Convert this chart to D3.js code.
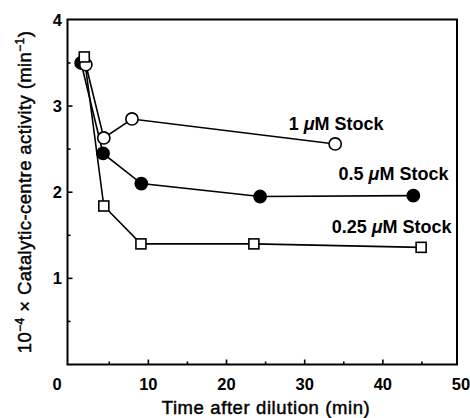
<!DOCTYPE html>
<html>
<head>
<meta charset="utf-8">
<script src="https://cdn.jsdelivr.net/npm/d3@7"></script>
<style>
  body { margin: 0; background: #fff; }
  svg { display: block; font-family: "Liberation Sans", Arial, sans-serif; }
</style>
</head>
<body>
<svg></svg>
<script>
// data
var oneX = [2.0, 4.3, 7.9, 33.9];
var oneY = [3.48, 2.63, 2.85, 2.56];
var halfX = [1.4, 4.2, 9.1, 24.3, 43.9];
var halfY = [3.5, 2.45, 2.1, 1.95, 1.96];
var quarterX = [1.8, 4.3, 9.05, 23.5, 44.9];
var quarterY = [3.57, 1.84, 1.4, 1.4, 1.36];
var xTicks = [0, 10, 20, 30, 40, 50];
var yTicks = [1, 2, 3, 4];

let w = 470;
let h = 418;

var svg = d3.select("svg").attr("width", w).attr("height", h);

var x = d3.scaleLinear().domain([0, 50]).range([70.2, 461]);
var y = d3.scaleLinear().domain([0, 4]).range([364.5, 19.9]);

// frame
svg.append("rect")
  .attr("x", 67.5).attr("y", 19.5)
  .attr("width", 457 - 67.5).attr("height", 364.5 - 19.5)
  .attr("fill", "none").attr("stroke", "#000").attr("stroke-width", 2);

// ticks (inward)
var g = svg.append("g").attr("stroke", "#000").attr("stroke-width", 1.6);
[5, 10, 15, 20, 25, 30, 35, 40, 45].forEach(function (v) {
  var len = v % 10 === 0 ? 5 : 3;
  g.append("line").attr("x1", x(v)).attr("x2", x(v))
    .attr("y1", 364.5).attr("y2", 364.5 - len);
});
[0.5, 1, 1.5, 2, 2.5, 3, 3.5].forEach(function (v) {
  var len = v % 1 === 0 ? 5 : 3;
  g.append("line").attr("x1", 67.5).attr("x2", 67.5 + len)
    .attr("y1", y(v)).attr("y2", y(v));
});

// tick labels
svg.append("g").selectAll("text").data(xTicks).enter().append("text")
  .attr("x", function (d) { return d === 0 ? 57 : x(d); })
  .attr("y", 389.5)
  .attr("text-anchor", "middle")
  .attr("font-size", 16.5).attr("font-weight", "bold")
  .text(function (d) { return d; });

svg.append("g").selectAll("text").data(yTicks).enter().append("text")
  .attr("x", 62)
  .attr("y", function (d) { return y(d) + 6; })
  .attr("text-anchor", "end")
  .attr("font-size", 16.5).attr("font-weight", "bold")
  .text(function (d) { return d; });

// axis titles (thin stroke to get the medium weight of the original)
svg.append("text")
  .attr("x", 266).attr("y", 414)
  .attr("text-anchor", "middle")
  .attr("font-size", 18.5).attr("letter-spacing", 0.6)
  .attr("stroke", "#000").attr("stroke-width", 0.45)
  .text("Time after dilution (min)");

var yt = svg.append("text")
  .attr("transform", "translate(31,192) rotate(-90)")
  .attr("text-anchor", "middle")
  .attr("font-size", 18.5).attr("letter-spacing", 0.4)
  .attr("stroke", "#000").attr("stroke-width", 0.45);
yt.append("tspan").text("10");
yt.append("tspan").attr("font-size", 12).attr("dy", -7).text("\u22124");
yt.append("tspan").attr("dy", 7).text(" \u00d7 Catalytic-centre activity (min");
yt.append("tspan").attr("font-size", 12).attr("dy", -7).text("\u22121");
yt.append("tspan").attr("dy", 7).text(")");

// lines
var line = d3.line().x(function (d) { return x(d[0]); }).y(function (d) { return y(d[1]); });
var series = [
  { xs: halfX, ys: halfY, shape: "filled" },
  { xs: oneX, ys: oneY, shape: "open" },
  { xs: quarterX, ys: quarterY, shape: "square" }
];
series.forEach(function (s) {
  var pts = d3.zip(s.xs, s.ys);
  svg.append("path").attr("d", line(pts))
    .attr("fill", "none").attr("stroke", "#000").attr("stroke-width", 1.6);
});

// markers
series.forEach(function (s) {
  var pts = d3.zip(s.xs, s.ys);
  var m = svg.append("g");
  if (s.shape === "square") {
    m.selectAll("rect").data(pts).enter().append("rect")
      .attr("x", function (d) { return x(d[0]) - 5; })
      .attr("y", function (d) { return y(d[1]) - 5; })
      .attr("width", 10).attr("height", 10)
      .attr("fill", "#fff").attr("stroke", "#000").attr("stroke-width", 1.6);
  } else {
    m.selectAll("circle").data(pts).enter().append("circle")
      .attr("cx", function (d) { return x(d[0]); })
      .attr("cy", function (d) { return y(d[1]); })
      .attr("r", 6.1)
      .attr("fill", s.shape === "filled" ? "#000" : "#fff")
      .attr("stroke", "#000").attr("stroke-width", 1.6);
  }
});

// series labels
var labels = [
  { pre: "1 ", lx: 40.1, ly: 2.72 },
  { pre: "0.5 ", lx: 48.4, ly: 2.14 },
  { pre: "0.25 ", lx: 48.8, ly: 1.525 }
];
labels.forEach(function (l) {
  var t = svg.append("text")
    .attr("x", x(l.lx)).attr("y", y(l.ly))
    .attr("text-anchor", "end")
    .attr("font-size", 18).attr("font-weight", "bold");
  t.append("tspan").text(l.pre);
  t.append("tspan").attr("font-style", "italic").text("\u03bc");
  t.append("tspan").text("M Stock");
});
</script>
</body>
</html>
